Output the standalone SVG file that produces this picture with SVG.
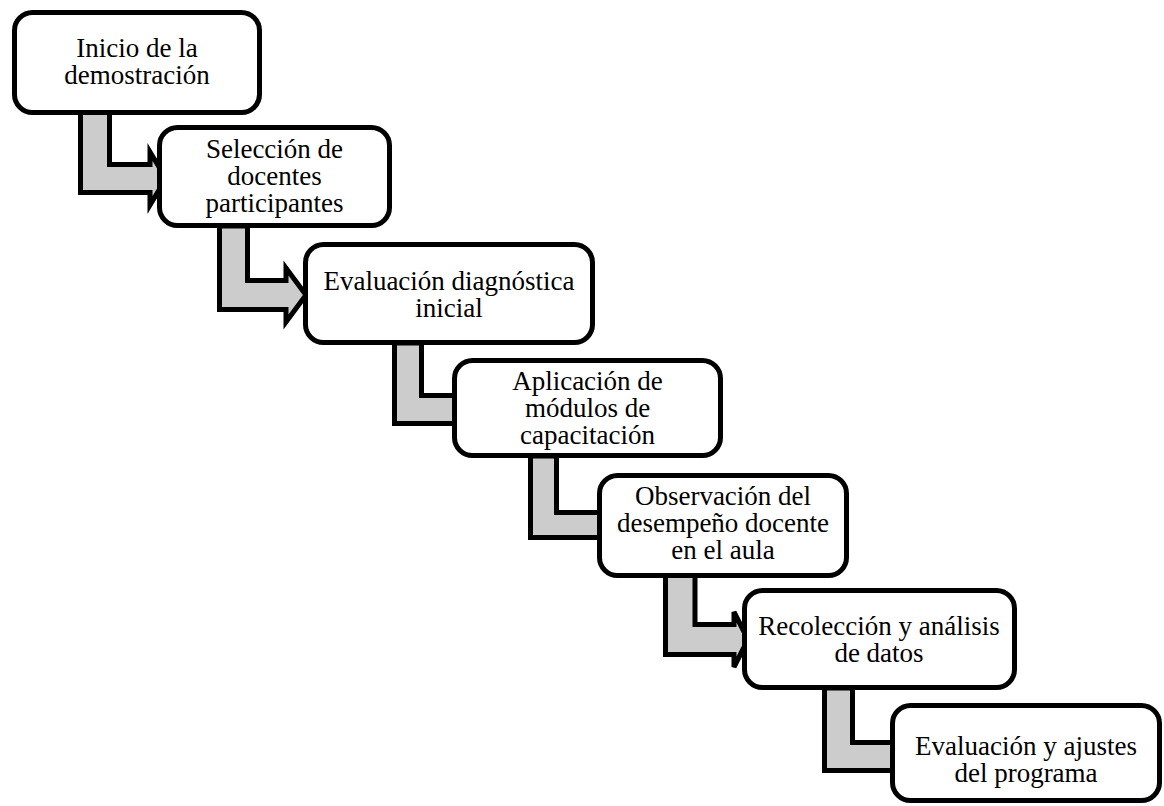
<svg xmlns="http://www.w3.org/2000/svg" width="1164" height="806" viewBox="0 0 1164 806">
<style>
.box{fill:#fff;stroke:#000;stroke-width:5}
.arr{fill:#cccccc;stroke:#000;stroke-width:5;stroke-linejoin:miter}
.t{font-family:"Liberation Serif","Times New Roman",serif;font-size:27px;fill:#000;text-anchor:middle}
</style>
<rect width="1164" height="806" fill="#fff"/>
<g id="connectors">
<path class="arr" d="M109.5,112 V164.5 H150 V152 L166,178.5 L150,205 V192.5 H80.5 V112 Z"/>
<path class="arr" d="M247.5,226 V280.5 H286 V268 L306,295 L286,322 V309.5 H219.5 V226 Z"/>
<path class="arr" d="M421.5,343 V395.5 H462 V383 L478,409.5 L462,436 V423.5 H394.5 V343 Z"/>
<path class="arr" d="M556.5,456 V512.5 H607 V500 L623,525 L607,550 V537.5 H530.5 V456 Z"/>
<path class="arr" d="M695,573 V624.5 H734 V612 L748,639.5 L734,667 V654.5 H665.5 V573 Z"/>
<path class="arr" d="M852.5,688 V742.5 H900 V730 L916,756.5 L900,783 V770.5 H824.5 V688 Z"/>
</g>
<g id="node1">
<rect class="box" x="14.5" y="12.5" width="245" height="100" rx="18"/>
<text class="t"><tspan x="137" y="56.5">Inicio de la</tspan><tspan x="137" y="83.5">demostración</tspan></text>
</g>
<g id="node2">
<rect class="box" x="159.5" y="127.5" width="230" height="98" rx="18"/>
<text class="t"><tspan x="274.5" y="158">Selección de</tspan><tspan x="274.5" y="185">docentes</tspan><tspan x="274.5" y="212">participantes</tspan></text>
</g>
<g id="node3">
<rect class="box" x="305.5" y="244.5" width="287" height="98" rx="18"/>
<text class="t"><tspan x="449" y="289.5">Evaluación diagnóstica</tspan><tspan x="449" y="316.5">inicial</tspan></text>
</g>
<g id="node4">
<rect class="box" x="454.5" y="360.5" width="266" height="95" rx="18"/>
<text class="t"><tspan x="587.5" y="390">Aplicación de</tspan><tspan x="587.5" y="417">módulos de</tspan><tspan x="587.5" y="444">capacitación</tspan></text>
</g>
<g id="node5">
<rect class="box" x="599.5" y="475.5" width="247" height="100" rx="18"/>
<text class="t"><tspan x="723" y="505">Observación del</tspan><tspan x="723" y="532">desempeño docente</tspan><tspan x="723" y="559">en el aula</tspan></text>
</g>
<g id="node6">
<rect class="box" x="744.5" y="590.5" width="270" height="97" rx="18"/>
<text class="t"><tspan x="879" y="634.5">Recolección y análisis</tspan><tspan x="879" y="661.5">de datos</tspan></text>
</g>
<g id="node7">
<rect class="box" x="892.5" y="705.5" width="267" height="95" rx="18"/>
<text class="t"><tspan x="1026" y="755">Evaluación y ajustes</tspan><tspan x="1026" y="782">del programa</tspan></text>
</g>
</svg>
